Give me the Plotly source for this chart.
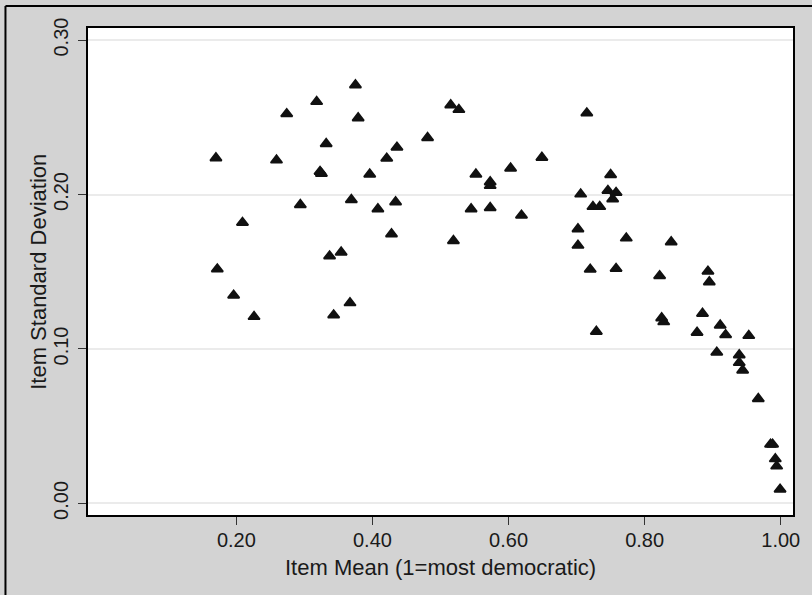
import plotly.graph_objects as go

# Item means (x) and item standard deviations (y)
item_mean = [0.170, 0.172, 0.196, 0.209, 0.226, 0.259, 0.274, 0.294, 0.318, 0.323,
             0.325, 0.332, 0.337, 0.343, 0.354, 0.367, 0.369, 0.375, 0.379, 0.396,
             0.408, 0.421, 0.428, 0.434, 0.436, 0.481, 0.515, 0.519, 0.527, 0.545,
             0.552, 0.573, 0.573, 0.573, 0.603, 0.619, 0.649, 0.702, 0.702, 0.706,
             0.715, 0.720, 0.724, 0.729, 0.734, 0.746, 0.750, 0.753, 0.758, 0.758,
             0.773, 0.822, 0.825, 0.828, 0.839, 0.877, 0.885, 0.893, 0.895, 0.906,
             0.911, 0.919, 0.939, 0.939, 0.944, 0.953, 0.967, 0.985, 0.988, 0.992,
             0.994, 0.999]
item_sd = [0.2236, 0.1517, 0.1347, 0.1818, 0.1209, 0.2222, 0.2522, 0.1933, 0.2601, 0.2148,
           0.2135, 0.2328, 0.1601, 0.1219, 0.1626, 0.1298, 0.1966, 0.2709, 0.2495, 0.2131,
           0.1906, 0.2234, 0.1744, 0.1951, 0.2305, 0.2367, 0.2579, 0.1700, 0.2549, 0.1906,
           0.2131, 0.2081, 0.2057, 0.1914, 0.2170, 0.1865, 0.2239, 0.1776, 0.1670, 0.2002,
           0.2527, 0.1515, 0.1921, 0.1113, 0.1921, 0.2025, 0.2128, 0.1970, 0.2012, 0.1520,
           0.1717, 0.1473, 0.1200, 0.1175, 0.1692, 0.1106, 0.1229, 0.1502, 0.1433, 0.0978,
           0.1153, 0.1091, 0.0961, 0.0911, 0.0862, 0.1086, 0.0677, 0.0382, 0.0382, 0.0288,
           0.0241, 0.0091]

x_ticks = [0.2, 0.4, 0.6, 0.8, 1.0]
x_tick_labels = ["0.20", "0.40", "0.60", "0.80", "1.00"]
y_ticks = [0.0, 0.1, 0.2, 0.3]
y_tick_labels = ["0.00", "0.10", "0.20", "0.30"]

x_title = "Item Mean (1=most democratic)"
y_title = "Item Standard Deviation"

FONT = "Liberation Sans, Arial, Helvetica, sans-serif"

# plot area in pixels (left, right, top, bottom)
PL, PR, PT, PB = 88, 797, 28, 515
PW, PH = PR - PL, PB - PT

fig = go.Figure()
fig.add_trace(go.Scatter(
    x=item_mean, y=item_sd, mode="markers",
    marker=dict(symbol="triangle-up", size=10, color="#111111",
                line=dict(color="#111111", width=1.8)),
    hoverinfo="x+y", showlegend=False,
))

fig.update_layout(
    width=812, height=595,
    margin=dict(l=PL, r=812 - PR, t=PT, b=595 - PB),
    paper_bgcolor="#d3d3d3",
    plot_bgcolor="#ffffff",
    font=dict(family=FONT, color="#1a1a1a", size=20),
    xaxis=dict(
        range=[-0.018, 1.018], tickmode="array", tickvals=x_ticks, ticktext=x_tick_labels,
        showgrid=False, zeroline=False,
        showline=True, mirror=True, linecolor="#000000", linewidth=2,
        ticks="outside", ticklen=8, tickwidth=1, tickcolor="#333333",
        tickfont=dict(size=20), ticklabelstandoff=-2,
    ),
    yaxis=dict(
        range=[-0.0075, 0.3078], tickmode="array", tickvals=y_ticks, ticktext=y_tick_labels,
        showgrid=True, gridcolor="#ebebeb", gridwidth=2, zeroline=False,
        showline=True, mirror=True, linecolor="#000000", linewidth=2,
        ticks="outside", ticklen=8, tickwidth=1, tickcolor="#333333",
        tickangle=-90, tickfont=dict(size=20), ticklabelstandoff=2,
    ),
    annotations=[
        dict(text=x_title, xref="paper", yref="paper", x=0.5, y=(PB - 567) / PH,
             showarrow=False, xanchor="center", yanchor="middle", font=dict(size=22)),
        dict(text=y_title, xref="paper", yref="paper", x=(38 - PL) / PW, y=0.5,
             showarrow=False, xanchor="center", yanchor="middle", textangle=-90,
             font=dict(size=22)),
    ],
    shapes=[
        dict(type="line", xref="paper", yref="paper",
             x0=(5 - PL) / PW, x1=(5 - PL) / PW, y0=-0.3, y1=1 + (PT - 6) / PH,
             line=dict(color="#000000", width=2)),
        dict(type="line", xref="paper", yref="paper",
             x0=(5 - PL) / PW, x1=1.2, y0=1 + (PT - 6) / PH, y1=1 + (PT - 6) / PH,
             line=dict(color="#000000", width=2)),
    ],
)

fig.write_html(
    "out.html",
    config={"displayModeBar": False},
    post_script="document.body.style.margin='0';document.body.style.padding='0';"
                "document.body.style.overflow='hidden';",
)
